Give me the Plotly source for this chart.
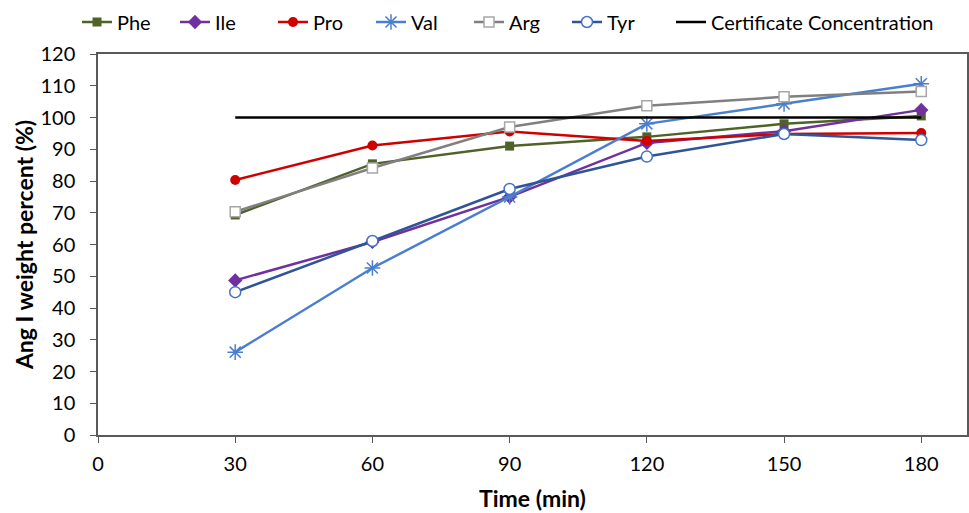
import plotly.graph_objects as go

time = [30, 60, 90, 120, 150, 180]
phe = [69.3, 85.4, 91.0, 93.9, 98.0, 100.5]
ile = [48.7, 60.8, 75.0, 92.0, 95.7, 102.4]
pro = [80.3, 91.2, 95.6, 92.6, 94.8, 95.1]
val = [26.1, 52.6, 75.0, 98.0, 104.3, 110.6]
arg = [70.3, 84.1, 97.0, 103.7, 106.5, 108.2]
tyr = [45.0, 61.1, 77.5, 87.7, 94.8, 92.9]
cert_time = [30, 180]
cert = [100, 100]

series = [
    ("Phe", phe, "#4F6228", dict(symbol="square", size=9, color="#4F6228")),
    ("Ile", ile, "#7030A0", dict(symbol="diamond", size=11, color="#7030A0")),
    ("Pro", pro, "#D00000", dict(symbol="circle", size=10, color="#D00000")),
    ("Val", val, "#4A7FD0", dict(symbol="asterisk-open", size=13, color="#4A7FD0",
                                  line=dict(color="#4A7FD0", width=1.5))),
    ("Arg", arg, "#808080", dict(symbol="square", size=10, color="white",
                                  line=dict(color="#A6A6A6", width=1.5))),
    ("Tyr", tyr, "#2F5597", dict(symbol="circle", size=11, color="white",
                                  line=dict(color="#4472C4", width=1.5))),
]

fig = go.Figure()
for name, ys, lc, mk in series:
    fig.add_trace(go.Scatter(x=time, y=ys, name=name, mode="lines+markers",
                             line=dict(color=lc, width=2.5), marker=mk))
fig.add_trace(go.Scatter(x=cert_time, y=cert, name="Certificate Concentration",
                         mode="lines", line=dict(color="black", width=2.5),
                         legend="legend2"))

axis_line = "#595959"
leg_common = dict(orientation="h", yanchor="middle", xanchor="left",
                  xref="container", yref="container", y=1 - 22 / 513,
                  font=dict(size=20), itemwidth=30, bgcolor="rgba(0,0,0,0)")
fig.update_layout(
    width=969, height=513,
    margin=dict(l=98, r=2, t=54, b=78, autoexpand=False),
    plot_bgcolor="white", paper_bgcolor="white",
    font=dict(family="Lato", size=19, color="black"),
    showlegend=True,
    legend=dict(x=77 / 969, entrywidth=53, entrywidthmode="pixels",
                traceorder="normal", **leg_common),
    legend2=dict(x=671 / 969, **leg_common),
    xaxis=dict(range=[0, 190], tickvals=[0, 30, 60, 90, 120, 150, 180],
               showgrid=False, zeroline=False, showline=True, linecolor=axis_line,
               linewidth=1.5, mirror=True, ticks="outside", ticklen=6,
               tickcolor=axis_line, tickfont=dict(size=20), automargin=False,
               ticklabelstandoff=4,
               title=dict(text="<b>Time (min)</b>", font=dict(size=23), standoff=17)),
    yaxis=dict(range=[0, 120], dtick=10, showgrid=False, zeroline=False,
               showline=True, linecolor=axis_line, linewidth=1.5, mirror=True,
               ticks="outside", ticklen=6, tickcolor=axis_line,
               tickfont=dict(size=20), automargin=False, ticklabelstandoff=11,
               title=dict(text="<b>Ang I weight percent (%)</b>", font=dict(size=23),
                          standoff=0)),
    yaxis2=dict(range=[0, 120], dtick=10, overlaying="y", side="left",
                showgrid=False, zeroline=False, showline=False, ticks="inside",
                ticklen=6, tickcolor=axis_line, showticklabels=False,
                automargin=False),
)

fig.write_html("out.html", config={"displayModeBar": False},
               post_script="document.body.style.margin='0';document.body.style.overflow='hidden';")
